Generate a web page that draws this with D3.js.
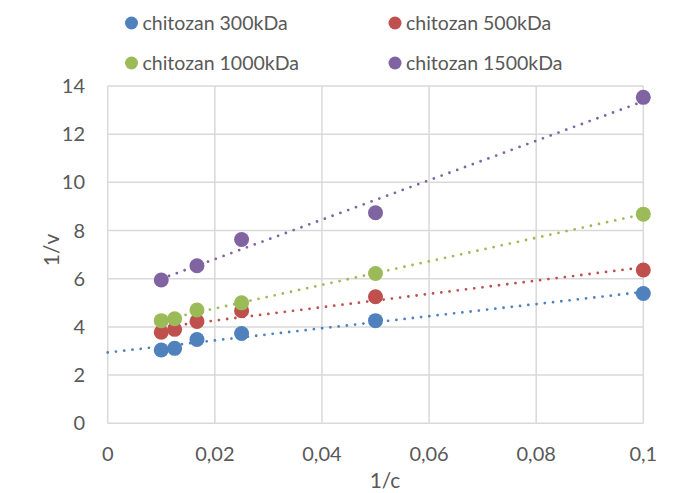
<!DOCTYPE html>
<html><head><meta charset="utf-8">
<script src="https://cdn.jsdelivr.net/npm/d3@7"></script>
<style>body{margin:0;background:#fff}svg{display:block}</style>
</head><body>
<svg id="c" width="680" height="493"></svg>
<script>
const seriesNames = ["chitozan 300kDa","chitozan 500kDa","chitozan 1000kDa","chitozan 1500kDa"];
const seriesColors = ["#4F81BD","#C0504D","#9BBB59","#8064A2"];
const x300 = [0.01,0.0125,1/60,0.025,0.05,0.1];
const y300 = [3.04,3.11,3.48,3.73,4.26,5.39];
const x500 = [0.01,0.0125,1/60,0.025,0.05,0.1];
const y500 = [3.78,3.90,4.23,4.67,5.25,6.36];
const x1000 = [0.01,0.0125,1/60,0.025,0.05,0.1];
const y1000 = [4.26,4.34,4.70,5.00,6.22,8.68];
const x1500 = [0.01,1/60,0.025,0.05,0.1];
const y1500 = [5.95,6.54,7.63,8.74,13.53];
const trendStart = [0,0.01,0.01,0.01];
const xTicks = [0,0.02,0.04,0.06,0.08,0.1];
const yTicks = [0,2,4,6,8,10,12,14];

const xs=[x300,x500,x1000,x1500], ys=[y300,y500,y1000,y1500];
const svg=d3.select("#c");
const font="Lato, 'Open Sans', sans-serif", txt="#595959";
const x=d3.scaleLinear().domain([0,0.1]).range([107.7,643.3]);
const y=d3.scaleLinear().domain([0,14]).range([423.3,86]);
const fmt=d=>String(d).replace(".",",");

// gridlines
svg.append("g").selectAll("line").data(yTicks).join("line")
  .attr("x1",x(0)).attr("x2",x(0.1)).attr("y1",d=>y(d)).attr("y2",d=>y(d))
  .attr("stroke","#d9d9d9").attr("stroke-width",1.5);
svg.append("g").selectAll("line").data(xTicks).join("line")
  .attr("y1",y(0)).attr("y2",y(14)).attr("x1",d=>x(d)).attr("x2",d=>x(d))
  .attr("stroke","#d9d9d9").attr("stroke-width",1.5);

// tick labels
svg.append("g").selectAll("text").data(yTicks).join("text")
  .attr("x",85).attr("y",d=>y(d)).attr("dy","0.35em").attr("text-anchor","end")
  .attr("font-family",font).attr("font-size",20).attr("fill",txt).text(d=>d);
svg.append("g").selectAll("text").data(xTicks).join("text")
  .attr("x",d=>x(d)).attr("y",454).attr("dy","0.35em").attr("text-anchor","middle")
  .attr("font-family",font).attr("font-size",20).attr("fill",txt).text(fmt);

// axis titles
svg.append("text").attr("x",385).attr("y",481).attr("dy","0.35em").attr("text-anchor","middle")
  .attr("font-family",font).attr("font-size",21).attr("fill",txt).text("1/c");
svg.append("text").attr("transform","translate(52,250) rotate(-90)").attr("dy","0.35em").attr("text-anchor","middle")
  .attr("font-family",font).attr("font-size",21).attr("fill",txt).text("1/v");

// trendlines (least squares)
function fit(xa,ya){const mx=d3.mean(xa),my=d3.mean(ya);let sxy=0,sxx=0;
  xa.forEach((v,i)=>{sxy+=(v-mx)*(ya[i]-my);sxx+=(v-mx)*(v-mx);});
  const b=sxy/sxx;return [b,my-b*mx];}
xs.forEach((xa,i)=>{const [b,a]=fit(xa,ys[i]);const x0=trendStart[i],x1=0.1;
  svg.append("line").attr("x1",x(x0)).attr("y1",y(a+b*x0)).attr("x2",x(x1)).attr("y2",y(a+b*x1))
   .attr("stroke",seriesColors[i]).attr("stroke-width",2.8).attr("stroke-linecap","round")
   .attr("stroke-dasharray","0 8.3");});

// points
xs.forEach((xa,i)=>{
  svg.append("g").selectAll("circle").data(xa.map((v,j)=>[v,ys[i][j]])).join("circle")
   .attr("cx",d=>x(d[0])).attr("cy",d=>y(d[1])).attr("r",7.5).attr("fill",seriesColors[i]);});

// legend
const legPos=[[131.5,23],[395,23],[131.5,63],[395,63]];
seriesNames.forEach((n,i)=>{const g=svg.append("g").attr("transform",`translate(${legPos[i][0]},${legPos[i][1]})`);
  g.append("circle").attr("r",6.5).attr("fill",seriesColors[i]);
  g.append("text").attr("x",11).attr("dy","0.35em").attr("font-family",font).attr("font-size",19.5)
   .attr("fill",txt).text(n);});
</script>
</body></html>
